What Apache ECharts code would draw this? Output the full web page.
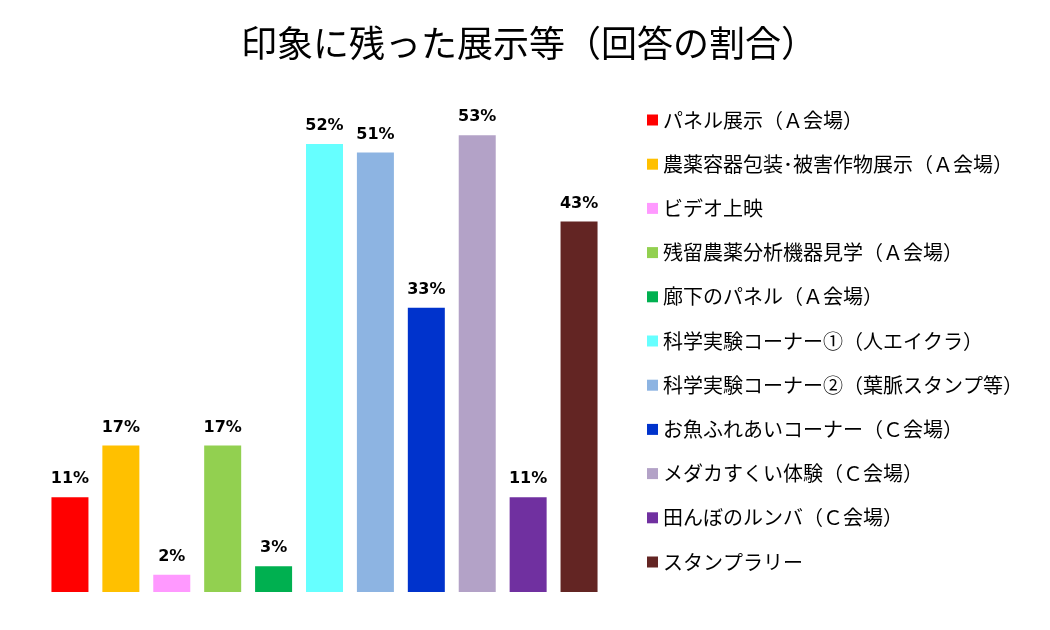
<!DOCTYPE html>
<html><head><meta charset="utf-8">
<script src="https://cdn.jsdelivr.net/npm/echarts@6/dist/echarts.min.js"></script>
<style>html,body{margin:0;padding:0;background:#fff}#c{width:1050px;height:630px}</style>
</head><body><div id="c"></div>
<script>
const categories = ['パネル展示（Ａ会場）','農薬容器包装･被害作物展示（Ａ会場）','ビデオ上映','残留農薬分析機器見学（Ａ会場）','廊下のパネル（Ａ会場）','科学実験コーナー①（人エイクラ）','科学実験コーナー②（葉脈スタンプ等）','お魚ふれあいコーナー（Ｃ会場）','メダカすくい体験（Ｃ会場）','田んぼのルンバ（Ｃ会場）','スタンプラリー'];
const values = [11,17,2,17,3,52,51,33,53,11,43];
const colors = ['#FF0000','#FFC000','#FF99FF','#92D050','#00B050','#66FFFF','#8DB4E2','#0033CC','#B3A2C7','#7030A0','#632523'];
const font = '"Noto Sans CJK JP", sans-serif';
const series = categories.map((name,i)=>({
  name, type:'bar', barWidth:37, barGap:'-100%',
  itemStyle:{color:colors[i]},
  data: categories.map((_,j)=> j===i ? values[i] : '-'),
  label:{show:true, position:'top', distance:10, formatter:'{c}%', fontWeight:'bold', fontSize:16, color:'#000', fontFamily:'"DejaVu Sans", sans-serif'}
}));
const chart = echarts.init(document.getElementById('c'));
chart.setOption({
  animation:false,
  title:{text:'印象に残った展示等（回答の割合）', left:524, textAlign:'center', top:20, textStyle:{fontSize:36, fontWeight:'normal', color:'#000', fontFamily:font}},
  grid:{left:44.5, width:560, top:75, bottom:38},
  xAxis:{type:'category', data:categories, show:false},
  yAxis:{type:'value', min:0, max:60, show:false},
  legend:{orient:'vertical', left:647, top:109, padding:0, itemWidth:11, itemHeight:11, itemGap:22.2, icon:'rect',
    textStyle:{fontSize:20, lineHeight:22, color:'#000', fontFamily:font}, data:categories},
  series
});
</script></body></html>
